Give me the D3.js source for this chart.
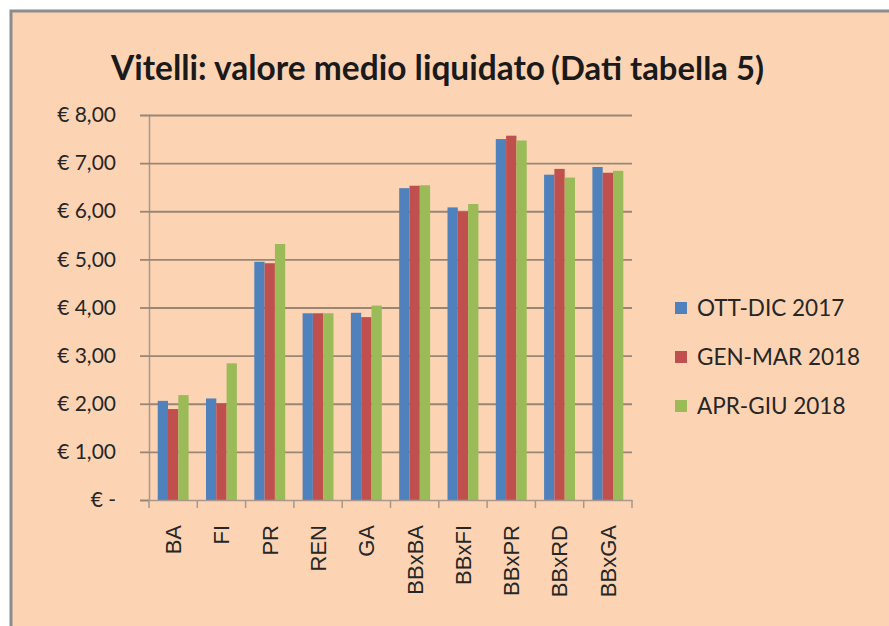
<!DOCTYPE html>
<html>
<head>
<meta charset="utf-8">
<script src="https://cdn.jsdelivr.net/npm/d3@7"></script>
<style>
  html, body { margin: 0; padding: 0; background: #fff; }
  svg { display: block; }
</style>
</head>
<body>
<div id="chart"></div>
<script>
// values (euro)
const categories = ['BA', 'FI', 'PR', 'REN', 'GA', 'BBxBA', 'BBxFI', 'BBxPR', 'BBxRD', 'BBxGA'];
const seriesNames = ['OTT-DIC 2017', 'GEN-MAR 2018', 'APR-GIU 2018'];
const ottDic2017 = [2.06, 2.11, 4.95, 3.88, 3.89, 6.48, 6.08, 7.50, 6.76, 6.92];
const genMar2018 = [1.89, 2.01, 4.92, 3.88, 3.80, 6.53, 5.99, 7.57, 6.88, 6.80];
const aprGiu2018 = [2.18, 2.84, 5.32, 3.88, 4.04, 6.54, 6.15, 7.47, 6.70, 6.84];
const yTicks = [0, 1, 2, 3, 4, 5, 6, 7, 8];
const seriesColors = ['#4f81bd', '#c0504d', '#9bbb59'];

const seriesValues = [ottDic2017, genMar2018, aprGiu2018];

const width = 889;
const height = 626;
const plot = {left: 149, right: 632, top: 115, bottom: 500};

const svg = d3.select('#chart').append('svg')
    .attr('width', width)
    .attr('height', height);

// chart area with the grey frame on top and left
svg.append('rect')
    .attr('x', 11).attr('y', 11)
    .attr('width', width).attr('height', height)
    .attr('fill', '#fcd4b4')
    .attr('stroke', '#8c8c8c')
    .attr('stroke-width', 3);

// shrink or grow a text's font until it is as wide as in the picture
function fitWidth(sel, target) {
  const node = sel.node();
  const size = parseFloat(sel.attr('font-size'));
  const w = node.getComputedTextLength();
  sel.attr('font-size', (size * target / w).toFixed(2));
}

// title
const title = svg.append('text')
    .attr('x', 111).attr('y', 80)
    .attr('font-family', 'Lato, sans-serif')
    .attr('font-weight', 'bold')
    .attr('font-size', 30)
    .attr('fill', '#1a1a1a')
    .text('Vitelli: valore medio liquidato');
fitWidth(title, 434);

const subTitle = svg.append('text')
    .attr('x', 551).attr('y', 80)
    .attr('font-family', 'Lato, sans-serif')
    .attr('font-weight', 'bold')
    .attr('font-size', 20)
    .attr('fill', '#1a1a1a')
    .text('(Dati tabella 5)');
fitWidth(subTitle, 213);

// scales
const x = d3.scaleBand()
    .domain(categories)
    .range([plot.left, plot.right])
    .paddingInner(0.36)
    .paddingOuter(0.18);

const xSub = d3.scaleBand()
    .domain(d3.range(seriesNames.length))
    .range([0, x.bandwidth()]);

const y = d3.scaleLinear()
    .domain([0, 8])
    .range([plot.bottom, plot.top]);

const euro = (v) => v === 0 ? '€ -' : '€ ' + d3.format('.2f')(v).replace('.', ',');

// gridlines + y labels
const yAxis = svg.append('g')
    .attr('transform', `translate(${plot.left},0)`)
    .call(d3.axisLeft(y)
        .tickValues(yTicks)
        .tickSize(9)
        .tickFormat(euro));
yAxis.select('.domain').attr('stroke', '#a8978a').attr('stroke-width', 1.5);
yAxis.selectAll('.tick line').attr('stroke', '#9a8674').attr('stroke-width', 1.8);
yAxis.selectAll('.tick')
    .filter((d) => d > 0)
    .append('line')
    .attr('x1', 0)
    .attr('x2', plot.right - plot.left)
    .attr('stroke', '#9a8674')
    .attr('stroke-width', 1.8);
yAxis.selectAll('.tick text')
    .attr('x', -33)
    .attr('font-family', 'Lato, sans-serif')
    .attr('font-size', 21)
    .attr('fill', '#262626');

// bars
const groups = svg.append('g').selectAll('g')
    .data(categories)
    .join('g')
    .attr('transform', (d) => `translate(${x(d)},0)`);

groups.selectAll('rect')
    .data((d, i) => seriesValues.map((vals, s) => ({s: s, v: vals[i]})))
    .join('rect')
    .attr('x', (d) => xSub(d.s))
    .attr('y', (d) => y(d.v))
    .attr('width', xSub.bandwidth())
    .attr('height', (d) => y(0) - y(d.v))
    .attr('fill', (d) => seriesColors[d.s]);

// x axis
const xAxis = svg.append('g')
    .attr('transform', `translate(0,${plot.bottom})`)
    .call(d3.axisBottom(x).tickSize(0).tickSizeOuter(0));
xAxis.select('.domain').attr('stroke', '#a8978a').attr('stroke-width', 1.6);
xAxis.selectAll('.tick text')
    .attr('font-family', '"Liberation Sans", Arial, sans-serif')
    .attr('font-size', 22)
    .attr('fill', '#262626')
    .attr('text-anchor', 'end')
    .attr('transform', 'rotate(-90)')
    .attr('x', -25)
    .attr('y', 0)
    .attr('dy', '0.36em');

// tick marks between categories
const step = x.step();
xAxis.selectAll('.sep')
    .data(d3.range(categories.length + 1))
    .join('line')
    .attr('class', 'sep')
    .attr('x1', (i) => plot.left + i * step)
    .attr('x2', (i) => plot.left + i * step)
    .attr('y1', 0)
    .attr('y2', 8)
    .attr('stroke', '#a8978a')
    .attr('stroke-width', 1.5);

// legend
const legend = svg.append('g')
    .attr('transform', 'translate(675,308)');
const items = legend.selectAll('g')
    .data(seriesNames)
    .join('g')
    .attr('transform', (d, i) => `translate(0,${i * 49})`);
items.append('rect')
    .attr('x', 0).attr('y', -6)
    .attr('width', 12).attr('height', 12)
    .attr('fill', (d, i) => seriesColors[i]);
items.append('text')
    .attr('x', 22)
    .attr('dy', '0.36em')
    .attr('font-family', 'Lato, sans-serif')
    .attr('font-size', 22.5)
    .attr('fill', '#262626')
    .text((d) => d);
</script>
</body>
</html>
